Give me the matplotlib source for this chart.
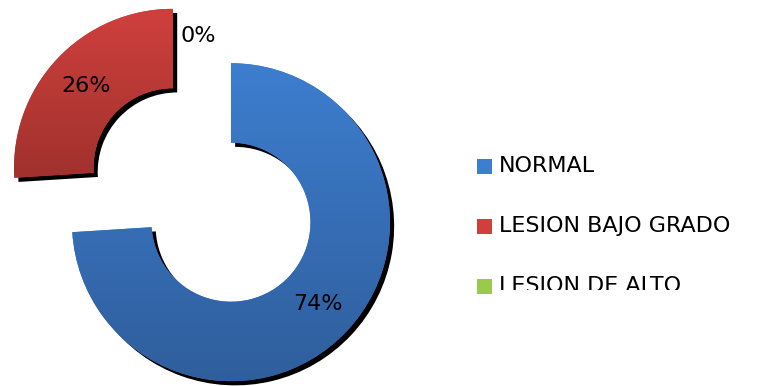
import numpy as np
import matplotlib.pyplot as plt
import matplotlib.patheffects as pe
from matplotlib.colors import LinearSegmentedColormap
from matplotlib.patches import Rectangle

# datos
categorias = ["NORMAL", "LESION BAJO GRADO", "LESION DE ALTO"]
porcentajes = [74, 26, 0]
etiquetas = ["74%", "26%", "0%"]
colores_arriba = ["#3d7ecf", "#cf403d", "#9bc94c"]
colores_abajo = ["#2f5e9c", "#a0312d", "#76a033"]

R = 159  # radio en pixeles

fig = plt.figure(figsize=(7.65, 3.86), dpi=100)
ax = fig.add_axes([0, 0, 1, 1])

wedges, _ = ax.pie(porcentajes, radius=R, center=(202, 191),
                   startangle=90, counterclock=False,
                   explode=[0.25 * R, 0.25 * R, 0.25 * R],
                   wedgeprops=dict(width=R / 2, linewidth=0),
                   colors=colores_arriba, frame=True)

sombra = [pe.SimplePatchShadow(offset=(3.0, -3.0), shadow_rgbFace="black", alpha=1.0),
          pe.Normal()]

for w, c1, c2, pct in zip(wedges, colores_arriba, colores_abajo, porcentajes):
    if pct == 0:
        continue
    w.set_path_effects(sombra)
    bb = w.get_path().get_extents()
    # degradado vertical
    cmap = LinearSegmentedColormap.from_list("g", [c2, c1])
    grad = np.linspace(0, 1, 256).reshape(-1, 1)
    im = ax.imshow(grad, cmap=cmap, origin="lower", aspect="auto",
                   extent=[bb.x0, bb.x1, bb.y0, bb.y1], zorder=w.get_zorder() + 0.1)
    im.set_clip_path(w)

ax.set_xlim(0, 765)
ax.set_ylim(0, 386)
ax.set_aspect("equal")
ax.axis("off")

# etiquetas de porcentaje
for w, txt in zip(wedges, etiquetas):
    ang = np.deg2rad((w.theta1 + w.theta2) / 2)
    cx, cy = w.center
    dx = -4 if txt == "0%" else 0
    ax.text(cx + 0.75 * R * np.cos(ang) + dx, cy + 0.75 * R * np.sin(ang), txt,
            ha="center", va="center", fontsize=16, family="DejaVu Sans",
            color="black", zorder=10)

# leyenda
for i, (nombre, c1) in enumerate(zip(categorias, colores_arriba)):
    y = 386 - 166 - i * 60
    ax.add_patch(Rectangle((477, y - 8), 15, 15, facecolor=c1, edgecolor="none", zorder=5))
    t = ax.text(499, y, nombre, ha="left", va="center", fontsize=16,
                family="DejaVu Sans", color="black", zorder=5)
    if i == 2:
        # la ultima entrada aparece cortada
        t.set_clip_on(True)
        t.set_clip_path(Rectangle((0, 386 - 290), 765, 290, transform=ax.transData))

fig.savefig("out.png", dpi=100)
